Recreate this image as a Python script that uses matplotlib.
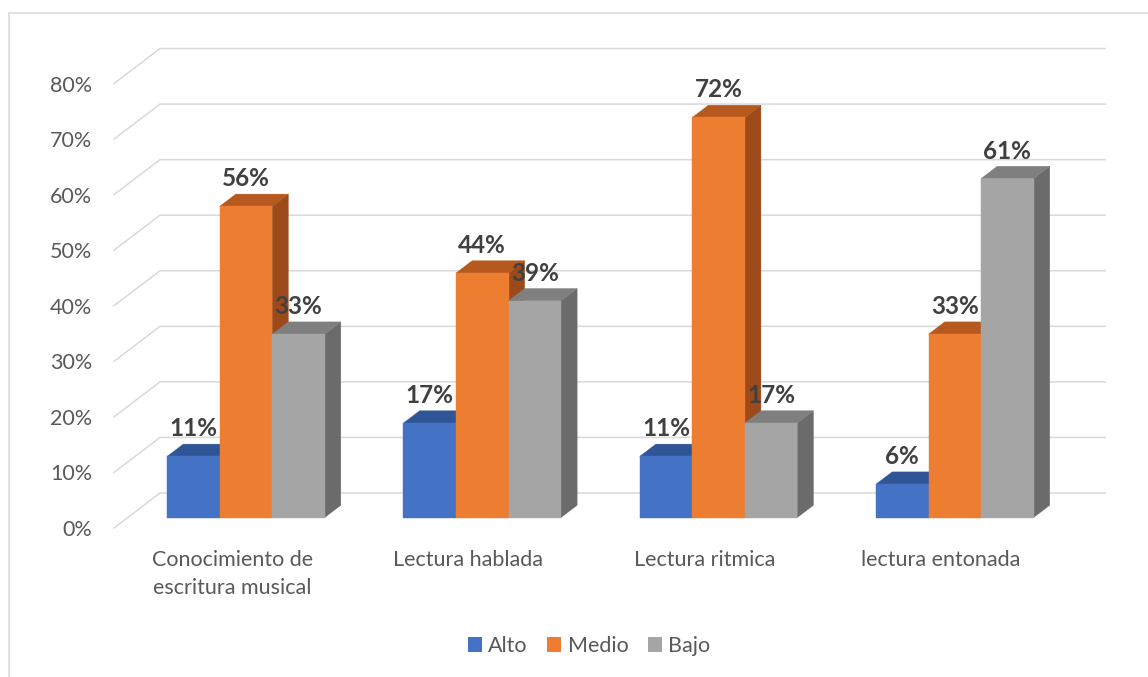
import matplotlib
matplotlib.use("Agg")
import matplotlib.pyplot as plt
from matplotlib.patches import Polygon, Patch

# ---------------- data ----------------
categories = ["Conocimiento de\nescritura musical", "Lectura hablada",
              "Lectura ritmica", "lectura entonada"]
series_names = ["Alto", "Medio", "Bajo"]
alto = [11, 17, 11, 6]
medio = [56, 44, 72, 33]
bajo = [33, 39, 17, 61]
y_ticks = [0, 10, 20, 30, 40, 50, 60, 70, 80]

series_values = [alto, medio, bajo]

# ---------------- style ----------------
FRONT = ["#4472C4", "#ED7D31", "#A5A5A5"]
TOP = ["#2F5597", "#B5591F", "#7F7F7F"]
SIDE = ["#2A4A85", "#9C4A1A", "#6B6B6B"]
GRID = "#D9D9D9"
FONT = ["Lato", "DejaVu Sans"]
plt.rcParams['font.family'] = FONT

W, H = 1148, 677
fig = plt.figure(figsize=(W / 100, H / 100), dpi=100)
ax = fig.add_axes([0, 0, 1, 1])
ax.set_xlim(0, W)
ax.set_ylim(H, 0)
ax.axis("off")

# oblique projection (category units, percent, depth fraction) -> canvas
X0, Y0 = 114, 528
SLOT = 236.3
K = 5.556
DX, DY = 46, -35
n_cat = len(categories)
n_ser = len(series_names)


def P(x, v, z):
    return (X0 + x * SLOT + z * DX, Y0 - v * K + z * DY)


# chart border (left & top)
ax.plot([9, 9, W], [H, 13, 13], color=GRID, lw=1.1, zorder=0,
        solid_joinstyle="miter")

# gridlines: side wall + back wall
for v in y_ticks:
    a = P(0, v, 0)
    b = P(0, v, 1)
    c = P(n_cat, v, 1)
    ax.plot([a[0], b[0], c[0]], [a[1], b[1], c[1]], color=GRID, lw=1.1,
            zorder=1)
    ax.text(92, a[1] + 2, f"{v}%", ha="right", va="center",
            fontsize=15.5, color="#595959")

# bars
Z0, Z1 = 0.30, 0.65
BW = 1 / (n_ser + 1.5)
zo = 2
for i in range(n_cat):
    for j in range(n_ser):
        v = series_values[j][i]
        xl = i + (0.75 + j) * BW
        xr = xl + BW
        side = [P(xr, 0, Z0), P(xr, 0, Z1), P(xr, v, Z1), P(xr, v, Z0)]
        top = [P(xl, v, Z0), P(xr, v, Z0), P(xr, v, Z1), P(xl, v, Z1)]
        front = [P(xl, 0, Z0), P(xr, 0, Z0), P(xr, v, Z0), P(xl, v, Z0)]
        for pts, col in ((side, SIDE[j]), (top, TOP[j]), (front, FRONT[j])):
            ax.add_patch(Polygon(pts, closed=True, facecolor=col,
                                 edgecolor=col, lw=0.3, zorder=zo))
            zo += 1
        cx, cy = P((xl + xr) / 2, v, Z0)
        ax.text(cx, cy - 20, f"{v}%", ha="center", va="baseline",
                fontsize=17.5, fontweight="bold", color="#404040", zorder=100)

# category labels
for i, lab in enumerate(categories):
    cx, _ = P(i + 0.5, 0, 0)
    ax.text(cx, 550, lab, ha="center", va="top", multialignment="center",
            fontsize=15.5, color="#595959", linespacing=1.5)

# legend
handles = [Patch(facecolor=FRONT[j], edgecolor="none") for j in range(n_ser)]
fig.legend(handles, series_names, loc="center",
           bbox_to_anchor=(589 / W, 1 - 646 / H), ncol=3, frameon=False,
           fontsize=15.5, labelcolor="#595959", handlelength=0.65,
           handleheight=0.65, handletextpad=0.3, columnspacing=0.9)

fig.savefig("out.png", dpi=100)
